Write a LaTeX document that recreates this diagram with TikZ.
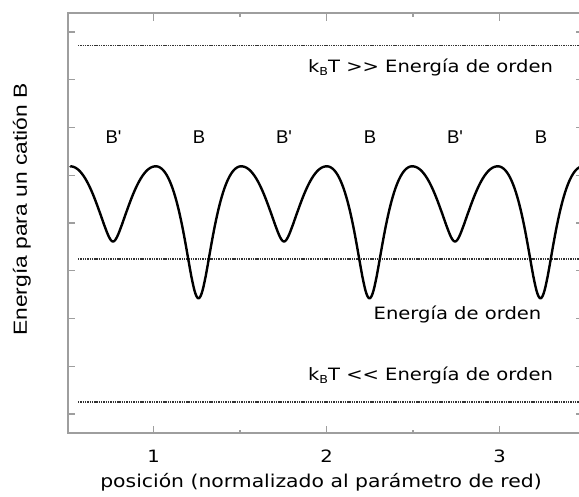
\documentclass[tikz,border=0pt]{standalone}
\usepackage{fontspec}
\setmainfont{DejaVu Sans}
\newfontfamily\verdfont[FakeStretch=1.15]{DejaVu Sans}
\newfontfamily\arialfont{Liberation Sans}
\newfontfamily\ylabfont[FakeStretch=1.2]{Liberation Sans}
\newcommand{\kBT}{k\raisebox{-0.35ex}{\fontsize{11}{11}\selectfont B}T}
\begin{document}
\begin{tikzpicture}[x=1pt,y=-1pt,
  axisline/.style={draw=black!38,line width=1.1pt},
  tickmark/.style={draw=black!38,line width=1.1pt},
  refline/.style={draw=black!80,line width=1.1pt,dash pattern=on 1.4pt off 0.9pt},
  curve/.style={draw=black,line width=2.4pt,line join=round},
  txt/.style={inner sep=0pt,anchor=base,font=\verdfont\fontsize{17}{20}\selectfont},
  blab/.style={inner sep=0pt,anchor=base,font=\arialfont\fontsize{18.5}{22}\selectfont},
]
\useasboundingbox (0,0) rectangle (579,496);
\fill[white] (0,0) rectangle (579,496);
% axes frame
\coordinate (tl) at (68,13);
\coordinate (bl) at (68,433);
\coordinate (tr) at (579,13);
\coordinate (br) at (579,433);
\draw[axisline] (tr) -- (tl) -- (bl) -- (br);
% left and right ticks
\foreach \yy in {32,79.8,127.5,175.3,223,270.8,318.5,366.3,414}{
  \draw[tickmark] (68,\yy) -- (75,\yy);
  \draw[tickmark] (576,\yy) -- (579,\yy);
}
% top and bottom ticks
\foreach \xx/\len in {153.5/7.5,240/3.5,326.5/7.5,413/3.5,499.5/7.5}{
  \draw[tickmark] (\xx,13) -- (\xx,13+\len);
  \draw[tickmark] (\xx,433) -- (\xx,433-\len);
}
% reference lines
\coordinate (h1) at (78,45.5);  \coordinate (h2) at (579,45.5);
\coordinate (m1) at (78,259);   \coordinate (m2) at (579,259);
\coordinate (l1) at (78,402);   \coordinate (l2) at (579,402);
\draw[refline] (h1) -- (h2);
\draw[refline] (m1) -- (m2);
\draw[refline] (l1) -- (l2);
% energy curve
\begin{scope}
\clip (68,0) rectangle (579,496);
\draw[curve] (70.25,166.3)
  \foreach \c/\D/\ee/\ex/\nf in {113/75.2/0.0225/-0.15/1.0033,198.5/132/0.1/-0.22/1.0212,284/75.2/0.0225/-0.15/1.0033,369.5/132/0.1/-0.22/1.0212,455/75.2/0.0225/-0.15/1.0033,540.5/132/0.1/-0.22/1.0212}{
    -- plot[domain=\c-42.75:\c+42.75,samples=85] (\x,{166.3+\D*(1+cos(180*\nf*(abs(\x-\c)/42.75)*((\x-\c)*(\x-\c)/1827.6+\ee)^\ex))/2})
  };
\end{scope}
% site labels
\node[blab] (s1) at (113.5,143) {B'};
\node[blab] (s2) at (199,143) {B};
\node[blab] (s3) at (284,143) {B'};
\node[blab] (s4) at (370,143) {B};
\node[blab] (s5) at (455,143) {B'};
\node[blab] (s6) at (541,143) {B};
% annotations
\node[txt] (hi) at (430.5,72) {\kBT{} >> Energía de orden};
\node[txt] (mid) at (457.5,319) {Energía de orden};
\node[txt] (lo) at (430.5,380.5) {\kBT{} << Energía de orden};
% tick labels
\node[txt] (t1) at (153.5,462) {1};
\node[txt] (t2) at (326.5,462) {2};
\node[txt] (t3) at (499.5,462) {3};
% axis labels
\node[txt,font=\verdfont\fontsize{17.7}{21}\selectfont] (xlab) at (321,487) {posición (normalizado al parámetro de red)};
\node[inner sep=0pt,anchor=base,rotate=90,font=\ylabfont\fontsize{19}{22}\selectfont] (ylab) at (27,209.5) {Energía para un catión B};
\end{tikzpicture}
\end{document}
